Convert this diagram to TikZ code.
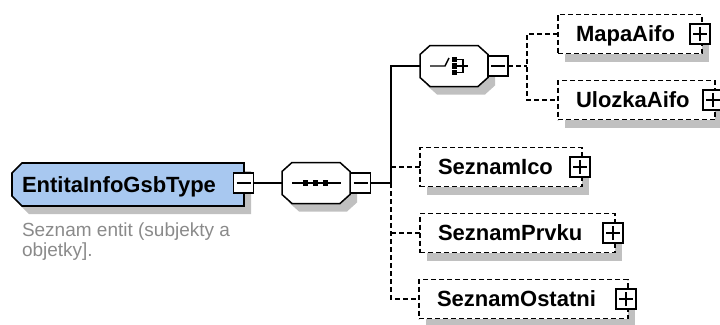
\documentclass[tikz,border=0pt]{standalone}
\usepackage{fontspec}
\setmainfont{Liberation Sans}
\usetikzlibrary{shadows}
\definecolor{rootfill}{HTML}{A8C8F0}
\definecolor{shadowgray}{HTML}{C0C0C0}
\definecolor{desccol}{HTML}{8A8A8A}
\begin{document}
\begin{tikzpicture}[x=1pt,y=-1pt,
  every node/.style={inner sep=0pt, outer sep=0pt},
  solidline/.style={line width=1.5pt, black},
  dline/.style={line width=1.5pt, black, dash pattern=on 5pt off 3pt},
  shad/.style={drop shadow={shadow xshift=7pt, shadow yshift=-8pt, fill=shadowgray, opacity=1}},
  namefont/.style={font=\fontsize{22}{26}\selectfont\bfseries},
  elembox/.style={draw, dline, fill=white, shad, namefont, minimum height=39pt, inner xsep=18pt,
    align=left, text height=15.75pt, text depth=0pt, anchor=west},
  roottext/.style={namefont, minimum height=43pt, inner xsep=10pt,
    align=left, text height=15.75pt, text depth=0pt, anchor=west},
  octnode/.style={minimum width=68pt, minimum height=41pt},
  octshape/.pic={
    \fill[shadowgray, shift={(7,8)}] (-24,-20.5) -- (24,-20.5) -- (34,-11.5) -- (34,11.5) -- (24,20.5)
      -- (-24,20.5) -- (-34,11.5) -- (-34,-11.5) -- cycle;
    \draw[line width=1.5pt, fill=white] (-24,-20.5) -- (24,-20.5) -- (34,-11.5) -- (34,11.5) -- (24,20.5)
      -- (-24,20.5) -- (-34,11.5) -- (-34,-11.5) -- cycle;
  },
  plusbox/.style={draw, line width=1.4pt, fill=white, minimum size=20pt,
    path picture={\draw[line width=1.4pt]
      ([xshift=-7pt]path picture bounding box.center) -- ([xshift=7pt]path picture bounding box.center)
      ([yshift=-7pt]path picture bounding box.center) -- ([yshift=7pt]path picture bounding box.center);}},
  minusbox/.style={draw, line width=1.4pt, fill=white, minimum size=20pt,
    path picture={\draw[line width=1.4pt]
      ([xshift=-7pt]path picture bounding box.center) -- ([xshift=7pt]path picture bounding box.center);}}
]
\useasboundingbox (0,0) rectangle (720,324);

% root
\fill[shadowgray, shift={(7,8)}] (22,163) -- (244,163) -- (244,206) -- (22,206) -- (12,196) -- (12,173) -- cycle;
\draw[line width=1.7pt, fill=rootfill] (22,163) -- (244,163) -- (244,206) -- (22,206) -- (12,196) -- (12,173) -- cycle;
\node[roottext, text width=212pt] (root) at (12,184.5) {EntitaInfoGsbType};
\node[minusbox] (rminus) at (243.5,183) {};
\node[anchor=north west, font=\fontsize{19}{20}\selectfont, text=desccol, align=left] (desc) at (22,223)
  {Seznam entit (subjekty a\\objetky].};

% sequence
\pic at (316,183) {octshape};
\node[octnode] (seq) at (316,183) {};
\node[minusbox] (sminus) at (360.5,183) {};
\begin{scope}[shift={(seq.center)}]
  \draw[line width=1.4pt] (-24,0) -- (25,0);
  \foreach \dx in {-10.5,-0.5,9.5} \fill (\dx,0) +(-2.75,-2.75) rectangle +(2.75,2.75);
\end{scope}

% choice
\pic at (454,66) {octshape};
\node[octnode] (choice) at (454,66) {};
\node[minusbox] (cminus) at (498,66) {};
\begin{scope}[shift={(choice.center)}]
  \draw[line width=1.4pt] (-24,0) -- (-9,0) -- (-5,-8);
  \foreach \dy in {-6.5,0,6.5} \fill (0.5,\dy) +(-2.6,-2.6) rectangle +(2.6,2.6);
  \draw[line width=1.4pt] (3,-6.5) -- (9,-6.5) -- (9,6.5) -- (3,6.5) (3,0) -- (14,0);
\end{scope}

% elements
\node[elembox, text width=108pt] (mapa) at (558,34) {MapaAifo};
\node[plusbox] (pmapa) at ([xshift=-2pt]mapa.east) {};
\node[elembox, text width=121pt] (ulozka) at (558,100) {UlozkaAifo};
\node[plusbox] (pulozka) at ([xshift=-2pt]ulozka.east) {};
\node[elembox, text width=126pt] (ico) at (420,167) {SeznamIco};
\node[plusbox] (pico) at ([xshift=-2pt]ico.east) {};
\node[elembox, text width=159pt] (prvku) at (420,233) {SeznamPrvku};
\node[plusbox] (pprvku) at ([xshift=-2pt]prvku.east) {};
\node[elembox, text width=173pt] (ostatni) at (419,299) {SeznamOstatni};
\node[plusbox] (postatni) at ([xshift=-2pt]ostatni.east) {};

% connectors
\coordinate (t1) at (391,183);
\coordinate (t2) at (527,66);
\draw[solidline] (rminus.east) -- (seq.west);
\draw[solidline] (sminus.east) -- (t1) |- (choice.west);
\draw[dline] (t1) |- (ostatni.west);
\draw[dline] (t1 |- ico.west) -- (ico.west);
\draw[dline] (t1 |- prvku.west) -- (prvku.west);
\draw[dline] (cminus.east) -- (t2);
\draw[dline] (mapa.west) -| (t2) |- (ulozka.west);
\end{tikzpicture}
\end{document}
